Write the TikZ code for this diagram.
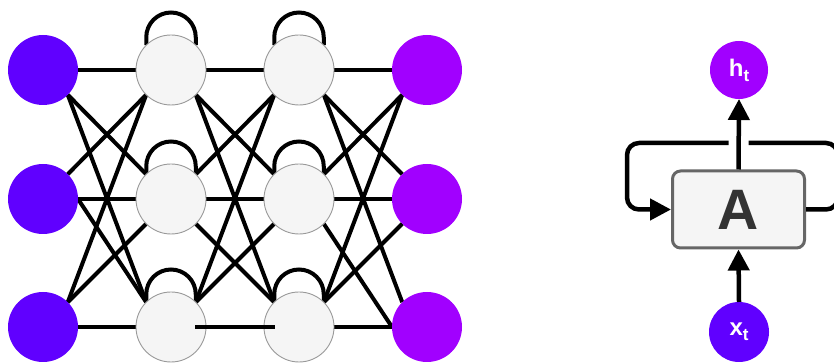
\documentclass[tikz,border=0pt]{standalone}
\usepackage{fontspec}
\setsansfont{Liberation Sans}
\usepackage{xcolor}
\usepackage{tikz}
\usetikzlibrary{positioning, shapes, calc, arrows.meta, backgrounds}

\definecolor{inviolet}{RGB}{96,0,255}
\definecolor{outviolet}{RGB}{161,0,255}
\definecolor{cellgray}{RGB}{245,245,245}
\definecolor{rimgray}{RGB}{153,153,153}
\definecolor{boxrim}{RGB}{102,102,102}
\definecolor{lettergray}{RGB}{51,51,51}

\begin{document}
\begin{tikzpicture}[x=1pt, y=1pt,
    unit/.style={circle, draw=rimgray, line width=0.9pt, fill=cellgray, minimum size=70pt, inner sep=0pt, outer sep=0pt},
    innode/.style={circle, fill=inviolet, minimum size=70pt, inner sep=0pt, outer sep=0pt},
    outnode/.style={circle, fill=outviolet, minimum size=70pt, inner sep=0pt, outer sep=0pt},
    wire/.style={line width=4pt, black},
    flow/.style={line width=4.5pt, black, -{Triangle[length=21pt, width=21pt]}},
    tag/.style={text=white, font=\sffamily\bfseries}]
  \useasboundingbox (0,0) rectangle (834,363);

  % unrolled network
  \node[innode] (in1) at (43, 293) {};
  \node[innode] (in2) at (43, 164) {};
  \node[innode] (in3) at (43, 36) {};
  \node[unit] (ha1) at (171, 293) {};
  \node[unit] (ha2) at (171, 164) {};
  \node[unit] (ha3) at (171, 36) {};
  \node[unit] (hb1) at (299, 293) {};
  \node[unit] (hb2) at (299, 164) {};
  \node[unit] (hb3) at (299, 36) {};
  \node[outnode] (out1) at (427, 293) {};
  \node[outnode] (out2) at (427, 164) {};
  \node[outnode] (out3) at (427, 36) {};

  \begin{scope}[on background layer]
    \draw[wire] (in1.east) -- (ha1.west);
    \draw[wire] (in1.-45) -- (ha2.135);
    \draw[wire] (in1.-45) -- (ha3.135);
    \draw[wire] (in2.45) -- (ha1.-135);
    \draw[wire] (in2.east) -- (ha2.west);
    \draw[wire] (in2.east) -- (ha3.135);
    \draw[wire] (in3.45) -- (ha1.-135);
    \draw[wire] (in3.45) -- (ha2.-135);
    \draw[wire] (in3.east) -- (ha3.west);

    \draw[wire] (ha1.east) -- (hb1.west);
    \draw[wire] (ha1.-45) -- (hb2.135);
    \draw[wire] (ha1.-45) -- (hb3.135);
    \draw[wire] (ha2.45) -- (hb1.-135);
    \draw[wire] (ha2.east) -- (hb2.west);
    \draw[wire] (ha2.-45) -- (hb3.135);
    \draw[wire] (ha3.45) -- (hb1.-135);
    \draw[wire] (ha3.45) -- (hb2.-135);

    \draw[wire] (hb1.east) -- (out1.west);
    \draw[wire] (hb1.-45) -- (out2.135);
    \draw[wire] (hb1.-45) -- (out3.135);
    \draw[wire] (hb2.45) -- (out1.-135);
    \draw[wire] (hb2.east) -- (out2.west);
    \draw[wire] (hb2.-45) -- (out3.west);
    \draw[wire] (hb3.45) -- (out1.-135);
    \draw[wire] (hb3.45) -- (out2.-135);
    \draw[wire] (hb3.east) -- (out3.west);

    % self loops
    \draw[wire] (ha1.135) -- ++(0,8) arc[start angle=180, end angle=0, radius=24.75] -- (ha1.45);
    \draw[wire] (ha2.135) -- ++(0,8) arc[start angle=180, end angle=0, radius=24.75] -- (ha2.45);
    \draw[wire] (ha3.135) -- ++(0,8) arc[start angle=180, end angle=0, radius=24.75] -- (ha3.45);
    \draw[wire] (hb1.135) -- ++(0,8) arc[start angle=180, end angle=0, radius=24.75] -- (hb1.45);
    \draw[wire] (hb2.135) -- ++(0,8) arc[start angle=180, end angle=0, radius=24.75] -- (hb2.45);
    \draw[wire] (hb3.135) -- ++(0,8) arc[start angle=180, end angle=0, radius=24.75] -- (hb3.45);
  \end{scope}
  \draw[wire] ($(ha3.center)+(24,0)$) -- ($(hb3.center)-(24,0)$);

  % folded cell
  \node[draw=boxrim, line width=3pt, fill=cellgray, rounded corners=8pt,
        minimum width=132pt, minimum height=77pt, text=lettergray,
        font=\sffamily\bfseries\fontsize{57}{57}\selectfont] (A) at (738.5, 153.5) {A};
  \node[outnode, minimum size=58pt, tag] (ht) at (739, 293)
    {\fontsize{24}{24}\selectfont h\raisebox{-5pt}{\fontsize{17}{17}\selectfont t}};
  \node[innode, minimum size=60pt, tag] (xt) at (739, 31)
    {\fontsize{24}{24}\selectfont x\raisebox{-5pt}{\fontsize{17}{17}\selectfont t}};

  \draw[line width=4.5pt, rounded corners=12pt, -{Triangle[length=21pt, width=21pt]}]
    (A.east) -- ++(32,0) |- (627,220) |- (A.west);
  \draw[white, line width=20pt, shorten <=4pt, shorten >=4pt] (A.north) -- (ht.south);
  \draw[flow] (A.north) -- (ht.south);
  \draw[flow] (xt.north) -- (A.south);
\end{tikzpicture}
\end{document}
